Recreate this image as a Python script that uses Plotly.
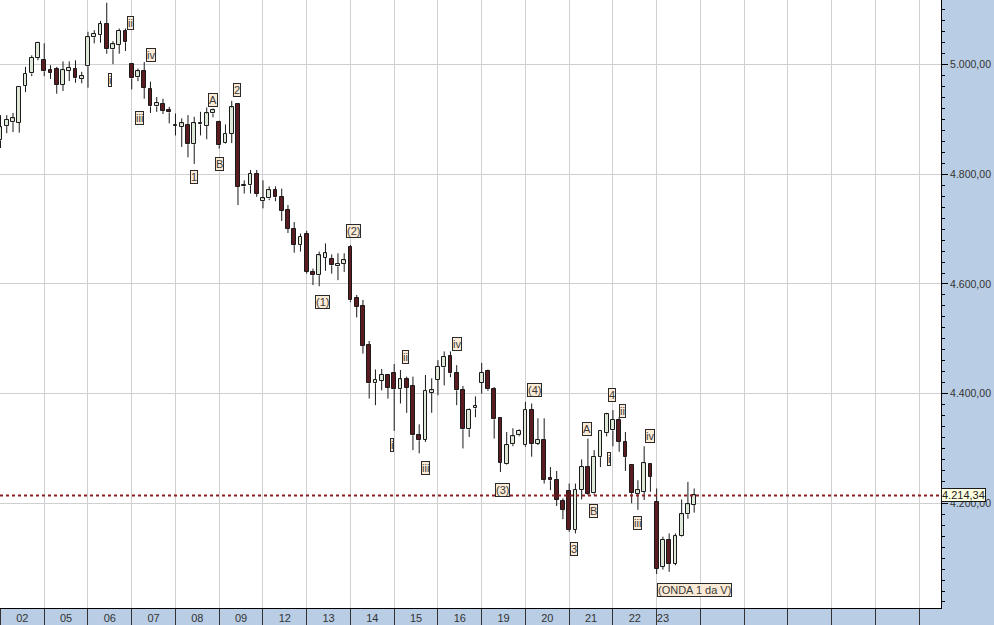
import plotly.graph_objects as go

# ---------------- data (hourly bars, 7 per trading day) ----------------
days = ["02", "05", "06", "07", "08", "09", "12", "13", "14", "15", "16",
        "19", "20", "21", "22", "23"]
# where each day's label sits inside its 7-bar slot (the last, open day is left-aligned)
day_label_pos = [3.5] * 15 + [1.0]

opens = [4862, 4888, 4895, 4894, 4961, 4984, 5013,
         5009, 4991, 4992, 4963, 4989, 4993, 4974,
         4997, 5050, 5054, 5074, 5028, 5036, 5062,
         5001, 4977, 4988, 4955, 4924, 4929, 4918,
         4888, 4887, 4890, 4855, 4891, 4888, 4911,
         4896, 4857, 4874, 4928, 4778, 4780, 4800,
         4751, 4756, 4772, 4759, 4735, 4701, 4671,
         4691, 4622, 4616, 4648, 4646, 4632, 4637,
         4668, 4574, 4560, 4488, 4419, 4423, 4434,
         4437, 4408, 4426, 4414, 4324, 4316, 4401,
         4425, 4448, 4468, 4437, 4406, 4335, 4373,
         4420, 4442, 4408, 4355, 4271, 4308, 4324,
         4306, 4370, 4309, 4316, 4246, 4243, 4204,
         4223, 4152, 4225, 4266, 4218, 4284, 4328,
         4333, 4352, 4312, 4270, 4217, 4221, 4271,
         4203, 4084, 4133, 4090, 4140, 4180, 4197]

highs = [4908, 4908, 4912, 4961, 4996, 5017, 5042,
         5039, 4999, 4996, 5006, 5006, 5008, 4987,
         5060, 5063, 5080, 5113, 5043, 5066, 5066,
         5003, 4993, 5005, 4969, 4941, 4938, 4923,
         4911, 4902, 4908, 4905, 4914, 4922, 4920,
         4898, 4891, 4934, 4930, 4789, 4808, 4808,
         4789, 4778, 4778, 4774, 4744, 4713, 4692,
         4697, 4628, 4659, 4674, 4654, 4656, 4656,
         4671, 4580, 4571, 4496, 4444, 4445, 4436,
         4454, 4443, 4431, 4431, 4344, 4434, 4428,
         4461, 4477, 4477, 4452, 4414, 4373, 4395,
         4456, 4444, 4412, 4357, 4330, 4337, 4335,
         4385, 4382, 4355, 4355, 4266, 4259, 4209,
         4236, 4236, 4280, 4318, 4297, 4333, 4365,
         4370, 4358, 4330, 4271, 4242, 4304, 4273,
         4227, 4139, 4145, 4145, 4207, 4239, 4227]

lows = [4848, 4875, 4877, 4876, 4950, 4979, 5008,
        4979, 4974, 4947, 4952, 4970, 4967, 4966,
        4958, 5039, 5040, 5020, 5001, 5020, 5025,
        4955, 4970, 4938, 4912, 4914, 4910, 4893,
        4871, 4850, 4831, 4819, 4871, 4864, 4904,
        4847, 4856, 4857, 4744, 4765, 4765, 4759,
        4738, 4753, 4751, 4715, 4693, 4657, 4659,
        4619, 4598, 4596, 4624, 4619, 4607, 4622,
        4567, 4539, 4473, 4391, 4379, 4406, 4391,
        4332, 4382, 4365, 4297, 4291, 4312, 4365,
        4397, 4415, 4430, 4379, 4300, 4321, 4357,
        4400, 4405, 4318, 4257, 4270, 4304, 4322,
        4303, 4285, 4306, 4236, 4224, 4195, 4171,
        4148, 4145, 4207, 4215, 4215, 4266, 4322,
        4304, 4294, 4259, 4200, 4188, 4206, 4221,
        4071, 4079, 4075, 4087, 4139, 4172, 4183]

closes = [4886, 4900, 4902, 4960, 4983, 5013, 5040,
          4988, 4985, 4963, 4990, 4994, 4975, 4979,
          5050, 5056, 5074, 5028, 5037, 5062, 5041,
          4975, 4988, 4958, 4924, 4930, 4916, 4913,
          4890, 4893, 4855, 4893, 4894, 4911, 4917,
          4853, 4874, 4922, 4777, 4780, 4801, 4765,
          4756, 4771, 4758, 4733, 4701, 4671, 4686,
          4622, 4616, 4652, 4656, 4634, 4637, 4643,
          4570, 4558, 4487, 4419, 4425, 4434, 4411,
          4408, 4426, 4411, 4324, 4315, 4405, 4406,
          4449, 4467, 4437, 4406, 4335, 4371, 4377,
          4438, 4408, 4353, 4274, 4306, 4322, 4332,
          4370, 4308, 4316, 4243, 4242, 4206, 4188,
          4151, 4225, 4266, 4217, 4285, 4332, 4362,
          4352, 4312, 4284, 4219, 4224, 4273, 4248,
          4081, 4133, 4090, 4140, 4180, 4198, 4214.34]

last_price = 4214.34
last_price_text = "4.214,34"

y_tick_values = [4200, 4400, 4600, 4800, 5000]
y_tick_text = ["4.200,00", "4.400,00", "4.600,00", "4.800,00", "5.000,00"]

# Elliott-wave labels: text, bar index, price
wave_text = ["ii", "i", "iv", "iii", "A", "2", "B", "1",
             "(2)", "(1)", "ii", "iv", "i", "iii",
             "(4)", "(3)", "4", "ii", "A", "i", "iv", "B", "iii", "3"]
wave_bar = [20.8, 17.6, 24.1, 22.2, 34.0, 37.9, 35.0, 31.0,
            56.5, 51.5, 64.8, 73.0, 62.6, 68.0,
            85.4, 80.4, 97.8, 99.6, 93.9, 97.4, 103.9, 94.9, 101.9, 91.8]
wave_price = [5076, 4972, 5018, 4903, 4935, 4953, 4818, 4796,
              4697, 4567, 4466, 4491, 4307, 4264,
              4406, 4224, 4397, 4368, 4335, 4280, 4322, 4186, 4164, 4116]
final_note = "(ONDA 1 da V)"
final_note_bar = 105
final_note_price = 4042

# ---------------- build ----------------
n = len(opens)
bars = list(range(n))
bars_per_day = 7

BULL_FILL = "#dde8d8"
BEAR_FILL = "#5a1c20"
EDGE = "#1a1a1a"

wx, wy = [], []
base, height, fills = [], [], []
for i in bars:
    o, h, l, c = opens[i], highs[i], lows[i], closes[i]
    top, bot = max(o, c), min(o, c)
    wx += [i, i, None, i, i, None]
    wy += [h, top, None, bot, l, None]
    hgt = top - bot
    if hgt < 1.2:
        bot -= (1.2 - hgt) / 2
        hgt = 1.2
    base.append(bot)
    height.append(hgt)
    fills.append(BULL_FILL if c >= o else BEAR_FILL)

fig = go.Figure()
fig.add_trace(go.Scatter(x=wx, y=wy, mode="lines",
                         line=dict(color=EDGE, width=1),
                         hoverinfo="skip", showlegend=False))
fig.add_trace(go.Bar(x=bars, y=height, base=base, width=0.6,
                     marker=dict(color=fills, line=dict(color=EDGE, width=1)),
                     showlegend=False, hoverinfo="skip"))

# last price dotted line
fig.add_shape(type="line", xref="paper", x0=0, x1=1, yref="y",
              y0=last_price, y1=last_price, layer="above",
              line=dict(color="#8b1f1f", width=2, dash="dot"))

LABEL_FONT = dict(family="Arial", size=11, color="#3a3a3a")
LABEL_BG = "#fbebd6"
LABEL_EDGE = "#2a2a2a"
for t, b, p in zip(wave_text, wave_bar, wave_price):
    fig.add_annotation(x=b, y=p, text=t, showarrow=False,
                       font=LABEL_FONT, bgcolor=LABEL_BG,
                       bordercolor=LABEL_EDGE, borderwidth=1, borderpad=0)
fig.add_annotation(x=final_note_bar, y=final_note_price, text=final_note,
                   showarrow=False, xanchor="left", font=LABEL_FONT,
                   bgcolor=LABEL_BG, bordercolor=LABEL_EDGE,
                   borderwidth=1, borderpad=0)

# last price tag on the axis
fig.add_annotation(xref="paper", x=1, xanchor="left", y=last_price,
                   text=last_price_text, showarrow=False,
                   font=dict(family="Arial", size=11, color="#222222"),
                   bgcolor="#ffffe1", bordercolor="#1a1a1a",
                   borderwidth=1, borderpad=0)

n_slots = 22
fig.update_layout(
    width=994, height=625,
    margin=dict(l=0, r=53, t=0, b=17, pad=0),
    paper_bgcolor="#b9cde4",
    plot_bgcolor="#ffffff",
    bargap=0, barmode="overlay",
    showlegend=False,
    xaxis=dict(
        range=[-0.08, 150.5],
        tickmode="array",
        tickvals=[d * bars_per_day + day_label_pos[d] for d in range(len(days))],
        ticktext=days,
        ticks="", showgrid=False, zeroline=False,
        showline=True, linecolor="#000000", linewidth=1,
        tickfont=dict(family="Arial", size=11, color="#333333"),
        minor=dict(tickmode="array",
                   tickvals=[k * bars_per_day for k in range(n_slots)],
                   ticks="outside", ticklen=17, tickwidth=1,
                   tickcolor="#333333", showgrid=True,
                   gridcolor="#d0d0d0", gridwidth=1),
        fixedrange=True,
        automargin=False,
    ),
    yaxis=dict(
        side="right",
        range=[4009, 5118],
        tickmode="array", tickvals=y_tick_values, ticktext=y_tick_text,
        ticks="outside", ticklen=6, tickwidth=1, tickcolor="#000000",
        showline=True, linecolor="#000000", linewidth=1,
        showgrid=True, gridcolor="#d0d0d0", gridwidth=1,
        zeroline=False,
        tickfont=dict(family="Arial", size=10.5, color="#333333"),
        minor=dict(tickmode="linear", tick0=4000, dtick=20,
                   ticks="outside", ticklen=3, tickwidth=1,
                   tickcolor="#000000", showgrid=False),
        fixedrange=True,
        automargin=False,
    ),
)

fig.write_html(
    "out.html",
    config={"displayModeBar": False},
    post_script="document.body.style.margin='0px';document.body.style.padding='0px';document.body.style.overflow='hidden';",
)
